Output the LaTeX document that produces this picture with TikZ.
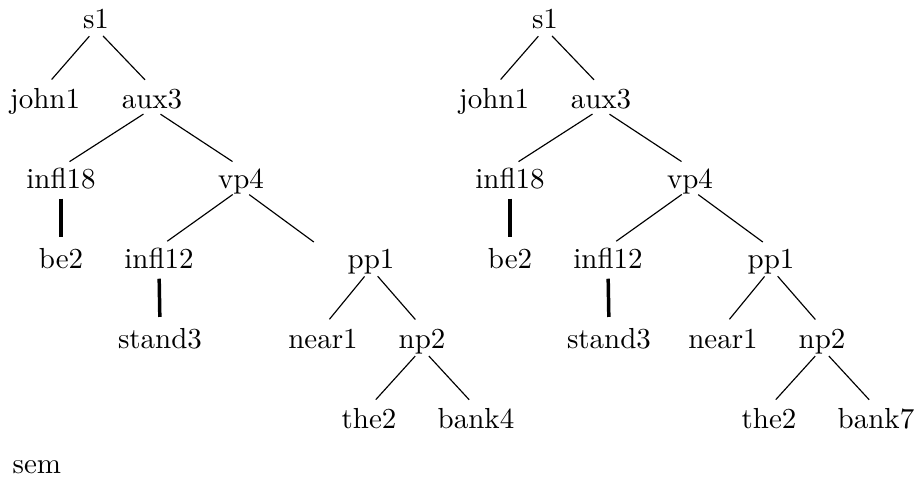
\documentclass[tikz,border=0pt]{standalone}
\begin{document}
\begin{tikzpicture}[x=.3448pt,y=-.3448pt,
  lbl/.style={inner sep=0pt,text height=7pt,text depth=0pt,anchor=base},
  edge/.style={shorten <=3.5pt,shorten >=3.5pt},
  hard/.style={edge,very thick}]
\useasboundingbox (0,0) rectangle (916,480);
\foreach \side/\dx/\dsub/\lastleaf in {l/0/49/bank4,r/449/0/bank7}{
\begin{scope}[shift={(\dx,0)},every node/.style={lbl}]
\node (s1\side) at (96,28) {s1};
\node (john1\side) at (45,108) {john1};
\node (aux3\side) at (152,108) {aux3};
\node (infl18\side) at (61,188) {infl18};
\node (vp4\side) at (241,188) {vp4};
\node (be2\side) at (61,268) {be2};
\node (infl12\side) at (159,268) {infl12};
\node (stand3\side) at (160,348) {stand3};
\coordinate (pp1top\side) at (322,248);
\begin{scope}[shift={(\dsub,0)}]
\node (pp1\side) at (322,268) {pp1};
\node (near1\side) at (274,348) {near1};
\node (np2\side) at (373,348) {np2};
\node (the2\side) at (320,428) {the2};
\node (bank\side) at (427,428) {\lastleaf};
\end{scope}
\end{scope}
\foreach \a/\b in {s1/john1,s1/aux3,aux3/infl18,aux3/vp4,vp4/infl12,pp1/near1,pp1/np2,np2/the2,np2/bank}
  \draw[edge] (\a\side.south) -- (\b\side.north);
\draw[edge] (vp4\side.south) -- (pp1top\side);
\draw[hard] (infl18\side.south) -- (be2\side.north);
\draw[hard] (infl12\side.south) -- (stand3\side.north);
}
\node[lbl,anchor=base west] (sem) at (12,473) {sem};
\end{tikzpicture}
\end{document}
